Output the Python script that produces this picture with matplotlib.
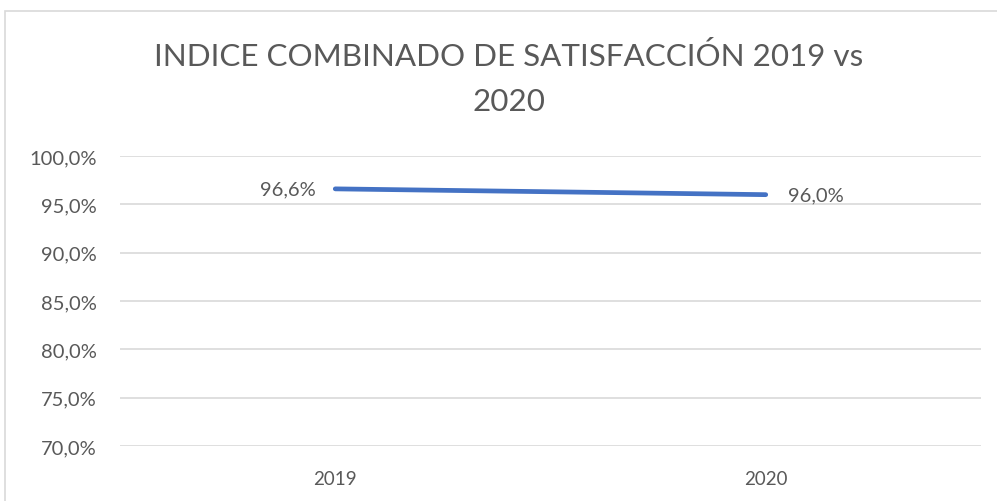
import matplotlib
matplotlib.use("Agg")
import matplotlib.pyplot as plt
from matplotlib.patches import Rectangle
from matplotlib.ticker import FuncFormatter

categories = ["2019", "2020"]
values = [0.966, 0.960]
value_labels = ["96,6%", "96,0%"]
yticks = [0.70, 0.75, 0.80, 0.85, 0.90, 0.95, 1.00]
title_lines = ["INDICE COMBINADO DE SATISFACCIÓN 2019 vs", "2020"]

plt.rcParams['font.family'] = ['Lato', 'DejaVu Sans']
text_color = "#595959"
grid_color = "#D9D9D9"
line_color = "#4472C4"

fig = plt.figure(figsize=(9.97, 5.02), dpi=100)
fig.patch.set_facecolor("white")
# chart border
fig.patches.append(Rectangle((5/997, -0.5), 2.0, 1.5 - 12/502, transform=fig.transFigure,
                             fill=False, edgecolor=grid_color, linewidth=1.2))

ax = fig.add_axes([120/997, 1 - 447/502, 861/997, 290/502])
x = list(range(len(categories)))
ax.plot(x, values, color=line_color, linewidth=3.4, solid_capstyle='round', zorder=3)
ax.set_xlim(-0.5, len(categories) - 0.5)
ax.set_ylim(0.70, 1.00)
ax.set_yticks(yticks)
ax.yaxis.set_major_formatter(FuncFormatter(lambda v, p: f"{v*100:.1f}%".replace('.', ',')))
ax.set_xticks(x)
ax.set_xticklabels(categories)
ax.grid(axis='y', color=grid_color, linewidth=1.2)
ax.set_axisbelow(True)
for s in ax.spines.values():
    s.set_visible(False)
ax.tick_params(axis='both', length=0, colors=text_color)
ax.tick_params(axis='y', pad=17, labelsize=14.5)
ax.tick_params(axis='x', pad=17, labelsize=13.5)

ax.annotate(value_labels[0], (x[0], values[0]), xytext=(-14, 0), textcoords='offset points',
            ha='right', va='center', fontsize=14.5, color=text_color)
ax.annotate(value_labels[1], (x[1], values[1]), xytext=(16, -0.5), textcoords='offset points',
            ha='left', va='center', fontsize=14.5, color=text_color)

fig.text(509/997, 1 - 56/502, title_lines[0], ha='center', va='center', fontsize=22.6,
         color=text_color)
fig.text(509/997, 1 - 102/502, title_lines[1], ha='center', va='center', fontsize=22.6,
         color=text_color)

fig.savefig("out.png", dpi=100)
